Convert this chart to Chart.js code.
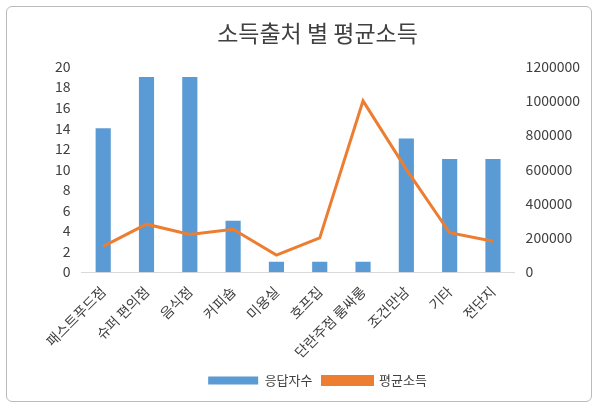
<!DOCTYPE html>
<html><head><meta charset="utf-8">
<script src="https://cdn.jsdelivr.net/npm/chart.js"></script>
<style>
body{margin:0;background:#fff;}
#box{position:absolute;left:6px;top:6px;width:584px;height:394px;border:1px solid #bbb;border-radius:6px;}
</style></head><body>
<div id="box"><canvas id="myChart" width="584" height="394"></canvas></div>
<script>
const categories = ["패스트푸드점", "슈퍼 편의점", "음식점", "커피숍", "미용실", "호프집", "단란주점 룸싸롱", "조건만남", "기타", "전단지"];
const respondents = [14, 19, 19, 5, 1, 1, 1, 13, 11, 11];
const avgIncome = [150000, 280000, 220000, 250000, 100000, 200000, 1000000, 600000, 230000, 180000];

const font = "'Noto Sans CJK KR', sans-serif";
Chart.defaults.font.family = font;
Chart.defaults.color = "#404040";

new Chart("myChart", {
  data: {
    labels: categories,
    datasets: [
      { type: "line", label: "평균소득", data: avgIncome, yAxisID: "y1",
        borderColor: "#ED7D31", backgroundColor: "#ED7D31", borderWidth: 3,
        pointRadius: 0, tension: 0, order: 0 },
      { type: "bar", label: "응답자수", data: respondents, yAxisID: "y",
        backgroundColor: "#5B9BD5", barPercentage: 0.35, categoryPercentage: 1, order: 1 }
    ]
  },
  options: {
    responsive: false,
    animation: false,
    layout: { padding: { left: 45, right: 8, top: 12, bottom: 4 } },
    plugins: {
      title: { display: true, text: "소득출처 별 평균소득", font: { size: 23, weight: "normal" }, color: "#404040", padding: { bottom: 20 } },
      legend: { position: "bottom", reverse: true,
        labels: { boxWidth: 50, boxHeight: 8, font: { size: 13 },
          generateLabels: chart => Chart.defaults.plugins.legend.labels.generateLabels(chart).map(l => {
            if (l.text === "평균소득") { l.pointStyle = "line"; }
            return l;
          }) } }
    },
    scales: {
      x: { grid: { display: false }, border: { color: "#d9d9d9" },
        ticks: { maxRotation: 45, minRotation: 45, font: { size: 14 }, color: "#404040" } },
      y: { min: 0, max: 20, ticks: { stepSize: 2, font: { size: 14 } }, grid: { display: false }, border: { display: false } },
      y1: { position: "right", min: 0, max: 1200000,
        ticks: { stepSize: 200000, font: { size: 14 }, callback: v => String(v) },
        grid: { display: false }, border: { display: false } }
    }
  }
});
</script></body></html>
